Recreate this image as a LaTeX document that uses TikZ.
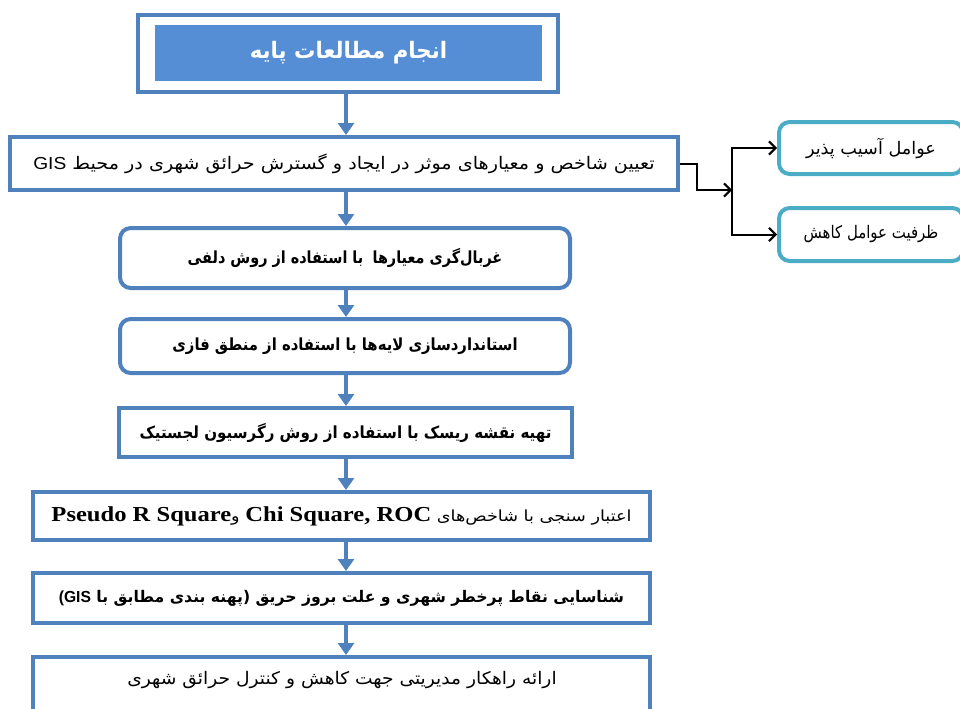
\documentclass[tikz,border=0pt]{standalone}
\usepackage{fontspec}
\usepackage{graphicx}
\usetikzlibrary{arrows.meta}
\TeXXeTstate=1
\newfontfamily\fa[Script=Arabic]{DejaVu Sans}
\newfontfamily\lserif{Liberation Serif}
\newfontfamily\lsans{Liberation Sans}
\definecolor{bblue}{HTML}{4F81BD}
\definecolor{fblue}{HTML}{558ED5}
\definecolor{tealb}{HTML}{4BACC6}
\newcommand{\fitw}[2]{\resizebox{#1}{\height}{#2}}
\newcommand{\rtl}[1]{\beginR #1\endR}
\tikzset{
  mainbox/.style={draw=bblue, line width=3pt, fill=white, inner sep=0pt},
  roundbox/.style={mainbox, rounded corners=8pt},
  sidebox/.style={draw=tealb, line width=3pt, fill=white, rounded corners=8pt, inner sep=0pt},
  txt/.style={inner sep=0pt},
  flow/.style={draw=bblue, line width=3.4pt, -{Triangle[length=9pt,width=12pt]}},
  conn/.style={draw=black, line width=1.5pt, -{Straight Barb[length=5pt,width=10pt]}},
}
\begin{document}
\begin{tikzpicture}[x=0.75pt, y=-0.75pt]
\useasboundingbox (0,0) rectangle (960,708);
\clip (0,0) rectangle (960,708);
\coordinate (ax) at (346,0);
% top box
\node[mainbox, minimum width=315pt, minimum height=57.75pt] (topouter) at (348,53.5) {};
\node[fill=fblue, inner sep=0pt, minimum width=290.25pt, minimum height=42pt, text=white] (top) at (348.5,53)
  {\fitw{148pt}{\fa\bfseries\fontsize{17}{20}\selectfont\rtl{انجام مطالعات پایه}}};
% main flow
\node[mainbox, minimum width=501pt, minimum height=39.75pt] (b2) at (344,163.5)
  {\fitw{466pt}{\fa\fontsize{13}{15}\selectfont\rtl{تعیین شاخص و معیارهای موثر در ایجاد و گسترش حرائق شهری در محیط \beginL{\lsans GIS}\endL}}};
\node[roundbox, minimum width=337.5pt, minimum height=45pt] (b3) at (345,258)
  {\fitw{236pt}{\fa\bfseries\fontsize{12.5}{15}\selectfont\rtl{غربال‌گری معیارها\hspace{0.3em} با استفاده از روش دلفی}}};
\node[roundbox, minimum width=337.5pt, minimum height=40.5pt] (b4) at (345,346)
  {\fitw{259pt}{\fa\bfseries\fontsize{12.5}{15}\selectfont\rtl{استانداردسازی لایه‌ها با استفاده از منطق فازی}}};
\node[mainbox, minimum width=339.75pt, minimum height=36.75pt] (b5) at (345.5,432.5)
  {\fitw{309pt}{\fa\bfseries\fontsize{12.5}{15}\selectfont\rtl{تهیه نقشه ریسک با استفاده از روش رگرسیون لجستیک}}};
\node[mainbox, minimum width=462.75pt, minimum height=36pt] (b6) at (341.5,516)
  {\fitw{435pt}{\fa\fontsize{11.5}{13}\selectfont\rtl{اعتبار سنجی با شاخص‌های \beginL{\lserif\bfseries\fontsize{16}{18}\selectfont Chi Square, ROC}\endL{} و\beginL{\lserif\bfseries\fontsize{16}{18}\selectfont Pseudo R Square}\endL}}};
\node[mainbox, minimum width=462.75pt, minimum height=37.5pt] (b7) at (341.5,598)
  {\fitw{424pt}{\fa\bfseries\fontsize{12}{14}\selectfont\rtl{شناسایی نقاط پرخطر شهری و علت بروز حریق (پهنه بندی مطابق با \beginL{\lsans\bfseries (GIS}\endL}}};
\node[mainbox, minimum width=462.75pt, minimum height=67.5pt] (b8) at (341.5,702) {};
\node[txt] (b8t) at (342,680)
  {\fitw{322pt}{\fa\fontsize{13}{15}\selectfont\rtl{ارائه راهکار مدیریتی جهت کاهش و کنترل حرائق شهری}}};
% side boxes
\node[sidebox, minimum width=138pt, minimum height=39pt] (s1) at (871,148)
  {\fitw{97.5pt}{\fa\fontsize{13}{15}\selectfont\rtl{عوامل آسیب پذیر}}};
\node[sidebox, minimum width=138pt, minimum height=39.75pt] (s2) at (871,234.5)
  {\fitw{101pt}{\fa\fontsize{13}{15}\selectfont\rtl{ظرفیت عوامل کاهش}}};
% flow arrows
\draw[flow] (topouter.south -| ax) -- (b2.north -| ax);
\draw[flow] (b2.south -| ax) -- (b3.north -| ax);
\draw[flow] (b3.south -| ax) -- (b4.north -| ax);
\draw[flow] (b4.south -| ax) -- (b5.north -| ax);
\draw[flow] (b5.south -| ax) -- (b6.north -| ax);
\draw[flow] (b6.south -| ax) -- (b7.north -| ax);
\draw[flow] (b7.south -| ax) -- (b8.north -| ax);
% side connectors
\coordinate (j) at (732,190);
\draw[conn] (b2.east) -- ++(17,0) |- (j);
\draw[conn] (j) |- (s1.west);
\draw[conn] (j) |- (s2.west);
\end{tikzpicture}
\end{document}
